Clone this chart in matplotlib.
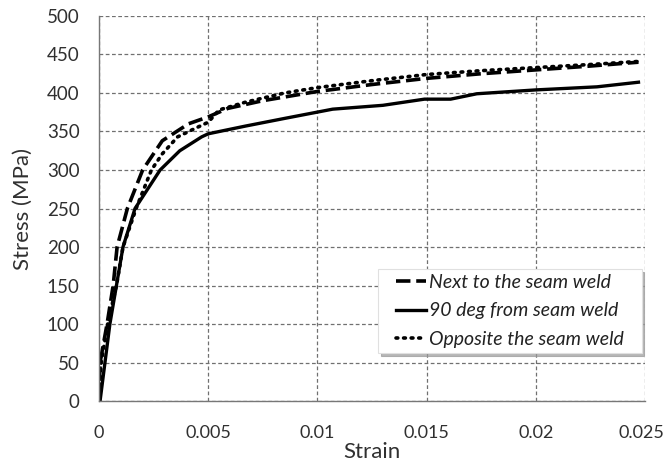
import matplotlib
matplotlib.use("Agg")
import matplotlib.pyplot as plt
from matplotlib.path import Path

plt.rcParams['font.family'] = ['Lato', 'DejaVu Sans']

# Data
strain_next = [0, 0.00005, 0.00037, 0.00065, 0.00083, 0.0013, 0.002, 0.0029, 0.0041, 0.005,
               0.0059, 0.0075, 0.01, 0.0125, 0.015, 0.0175, 0.02, 0.0225, 0.0247]
stress_next = [0, 50, 100, 150, 200, 250, 300, 338, 360, 369,
               380, 390, 402, 411, 419, 425, 430, 435, 440]

strain_90 = [0, 0.00005, 0.0005, 0.0011, 0.00165, 0.0028, 0.0037, 0.0047, 0.005, 0.0067,
             0.0085, 0.0107, 0.013, 0.0149, 0.0161, 0.0173, 0.02, 0.0228, 0.0247]
stress_90 = [0, 0, 100, 200, 250, 300, 325, 343, 347, 357,
             367, 379, 384, 392, 392, 399, 404, 408, 414]

strain_opp = [0, 0.0001, 0.0004, 0.0008, 0.0011, 0.0017, 0.0024, 0.0029, 0.0036, 0.0044,
              0.005, 0.0055, 0.0067, 0.0085, 0.01, 0.0125, 0.015, 0.0175, 0.02, 0.0225, 0.0247]
stress_opp = [0, 50, 100, 150, 200, 250, 300, 321, 343, 354,
              362, 378, 388, 400, 407, 416, 424, 429, 433, 437, 441]

labels = ['Next to the seam weld', '90 deg from seam weld', 'Opposite the seam weld']
x_ticks = [0, 0.005, 0.01, 0.015, 0.02, 0.025]
x_ticklabels = ['0', '0.005', '0.01', '0.015', '0.02', '0.025']
y_ticks = [0, 50, 100, 150, 200, 250, 300, 350, 400, 450, 500]

fig = plt.figure(figsize=(6.66, 4.62), dpi=100)
ax = fig.add_axes([0.1486, 0.132, 0.8199, 0.8334])

ax.plot(strain_next, stress_next, color='black', lw=2.6, linestyle=(0, (4.0, 1.6)), label=labels[0])
ax.plot(strain_90, stress_90, color='black', lw=2.4, linestyle='-', label=labels[1])
ax.plot(strain_opp, stress_opp, color='black', lw=2.6, linestyle=(0, (0.5, 1.6)),
        dash_capstyle='round', label=labels[2])

ax.set_xlim(0, 0.025)
ax.set_ylim(0, 500)
ax.set_xticks(x_ticks)
ax.set_xticklabels(x_ticklabels)
ax.set_yticks(y_ticks)
ax.tick_params(axis='y', labelsize=13.5, length=0, pad=14, colors='#303030')
ax.tick_params(axis='x', labelsize=13, length=0, pad=17, colors='#303030')

# nudge last x label slightly left so it stays inside the canvas
import matplotlib.transforms as mtransforms
last = ax.get_xticklabels()[-1]
last.set_transform(last.get_transform() + mtransforms.ScaledTranslation(-4 / 100, 0, fig.dpi_scale_trans))

ax.grid(True, color='#707070', linestyle=(0, (3, 2)), linewidth=0.9)
ax.set_axisbelow(True)
for s in ['top', 'right']:
    ax.spines[s].set_visible(False)
for s in ['left', 'bottom']:
    ax.spines[s].set_color('#777777')
    ax.spines[s].set_linewidth(1.0)

ax.set_xlabel('Strain', fontsize=16, labelpad=1, color='#303030')
ax.set_ylabel('Stress (MPa)', fontsize=16, labelpad=10, color='#303030')

leg = ax.legend(loc='lower left', bbox_to_anchor=(0.5348, 0.125), borderaxespad=0, frameon=True,
                shadow={'color': '#999999', 'alpha': 0.7, 'ox': 2, 'oy': -2},
                fancybox=False, prop={'style': 'italic', 'size': 14},
                handlelength=1.55, handletextpad=0.15, borderpad=0.25, labelspacing=0.6,
                edgecolor='#e0e0e0', framealpha=1)


def wide_box(x0, y0, width, height, mutation_size):
    dx = 13
    return Path([(x0 - dx, y0), (x0 + width + dx, y0), (x0 + width + dx, y0 + height),
                 (x0 - dx, y0 + height), (x0 - dx, y0)], closed=True)


leg.get_frame().set_boxstyle(wide_box)
leg.get_frame().set_linewidth(0.8)
for t in leg.get_texts():
    t.set_color('#222222')

fig.savefig('out.png', dpi=100)
